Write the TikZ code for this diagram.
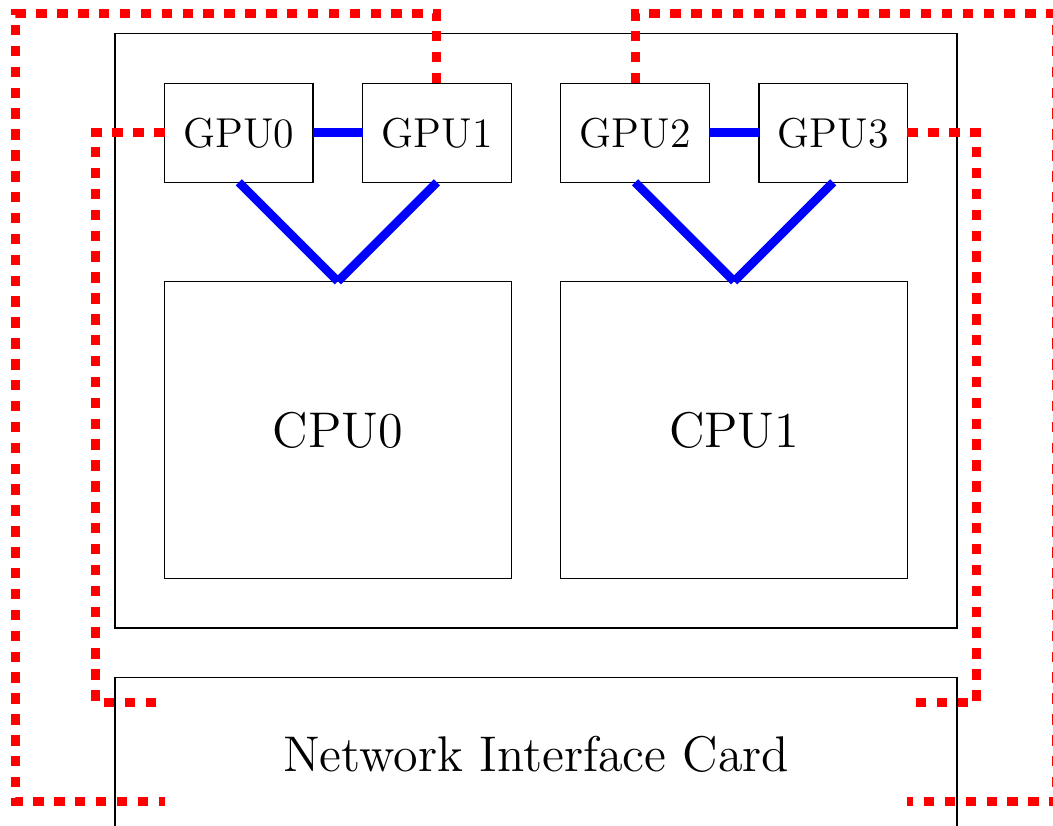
\documentclass[tikz,border=0pt]{standalone}
\usetikzlibrary{positioning}
\tikzset{
  gpubox/.style={draw, outer sep=0pt, minimum width=1.5cm, minimum height=1cm, font=\large},
  cpubox/.style={draw, outer sep=0pt, minimum width=3.5cm, minimum height=3cm, font=\Large},
  hostbox/.style={draw, outer sep=0pt, minimum width=8.5cm, minimum height=6cm},
  nicbox/.style={draw, outer sep=0pt, minimum width=8.5cm, minimum height=1.56cm, font=\Large},
  nvlink/.style={blue, line width=2.5pt},
  netlink/.style={red, line width=2.6pt, dash pattern=on 3pt off 3pt}
}
\begin{document}
\begin{tikzpicture}
  \useasboundingbox (-1.161,-1.989) rectangle (9.469,6.340);
  % server
  \node[hostbox] (host) at (4.25,3) {};
  \node[gpubox] (gpu0) at (1.25,5) {GPU0};
  \node[gpubox] (gpu1) at (3.25,5) {GPU1};
  \node[gpubox] (gpu2) at (5.25,5) {GPU2};
  \node[gpubox] (gpu3) at (7.25,5) {GPU3};
  \node[cpubox] (cpu0) at (2.25,2) {CPU0};
  \node[cpubox] (cpu1) at (6.25,2) {CPU1};
  % network card and its ports
  \node[nicbox] (nic) at (4.25,-1.28) {Network Interface Card};
  \coordinate (port0) at (0.5,-0.75);
  \coordinate (port1) at (0.5,-1.75);
  \coordinate (port2) at (8,-1.75);
  \coordinate (port3) at (8,-0.75);
  % links
  \draw[nvlink] (gpu0) -- (gpu1);
  \draw[nvlink] (gpu2) -- (gpu3);
  \draw[nvlink] (gpu0.south) -- (cpu0.north);
  \draw[nvlink] (gpu1.south) -- (cpu0.north);
  \draw[nvlink] (gpu2.south) -- (cpu1.north);
  \draw[nvlink] (gpu3.south) -- (cpu1.north);
  \draw[netlink] (gpu0.west) -- ++(-0.7,0) |- (port0);
  \draw[netlink] (gpu3.east) -- ++(0.7,0) |- (port3);
  \draw[netlink] (gpu1.north) -- ++(0,0.7) -| (-1,-1.75) -- (port1);
  \draw[netlink] (gpu2.north) -- ++(0,0.7) -| (9.5,-1.75) -- (port2);
\end{tikzpicture}
\end{document}
